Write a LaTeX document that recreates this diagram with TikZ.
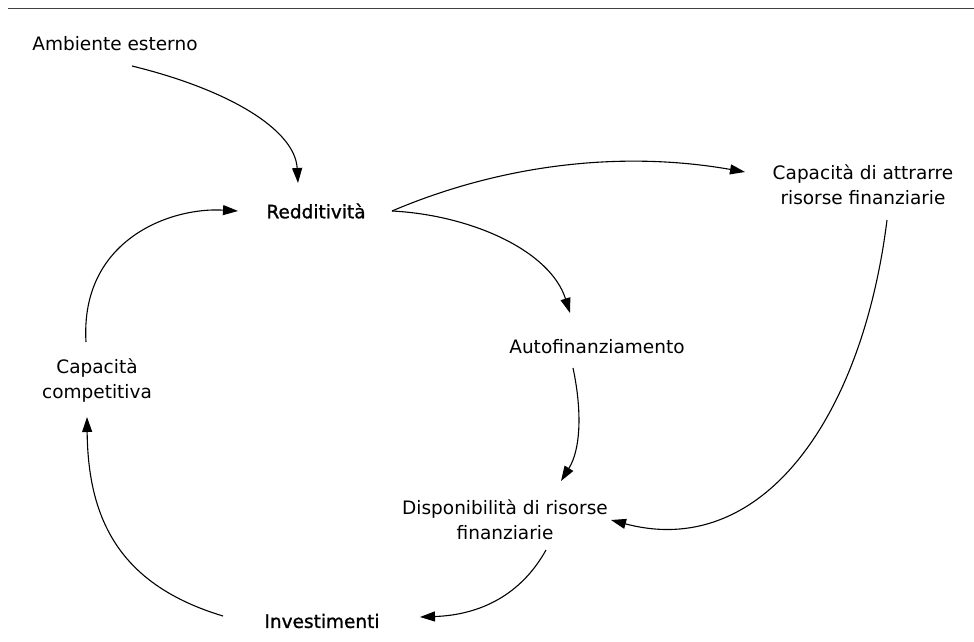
\documentclass[tikz,border=0pt]{standalone}
\usepackage{fontspec}
\setmainfont{DejaVu Sans}
\newfontfamily\emfont[FakeBold=1.2]{DejaVu Sans}
\usetikzlibrary{arrows.meta}
\tikzset{
  lbl/.style={inner sep=0pt, align=center, font=\fontsize{18.5}{25}\selectfont},
  elbl/.style={inner sep=0pt, align=center, font=\emfont\fontsize{18.5}{25}\selectfont},
  conn/.style={line width=1.1pt, -{Triangle[length=15pt,width=10pt]}},
  rulestyle/.style={line width=1.8pt, draw=black!75}
}
\begin{document}
\begin{tikzpicture}[x=1pt,y=-1pt]
\useasboundingbox (0,0) rectangle (974,642);
\draw[rulestyle] (8,8.5) -- (974,8.5);

\node[lbl]  (amb)  at (115,44)  {Ambiente esterno};
\node[elbl] (redd) at (316,211) {Redditività};
\node[lbl]  (cap)  at (863,185) {Capacità di attrarre\\risorse finanziarie};
\node[lbl]  (auto) at (597,347) {Autofinanziamento};
\node[lbl]  (comp) at (97,381)  {Capacità\\competitiva};
\node[elbl] (inv)  at (322,621) {Investimenti};
\node[lbl]  (disp) at (505,520) {Disponibilità di risorse\\finanziarie};

\draw[conn] ([shift={(17,22)}]amb.center) .. controls +(98,24) and +(-3,-53) .. ([shift={(-18,-28)}]redd.center);
\draw[conn] ([shift={(-11,-39)}]comp.center) .. controls +(-6,-102) and +(-68,-4) .. ([shift={(-78,0)}]redd.center);
\draw[conn] ([shift={(76,0)}]redd.center) .. controls +(108,-46) and +(-125,-22) .. ([shift={(-118,-13)}]cap.center);
\draw[conn] ([shift={(76,0)}]redd.center) .. controls +(78,4) and +(-20,-63) .. ([shift={(-27,-34)}]auto.center);
\draw[conn] ([shift={(-24,21)}]auto.center) .. controls +(9,42) and +(20,-32) .. ([shift={(56,-39)}]disp.center);
\draw[conn] ([shift={(24,35)}]cap.center) .. controls +(-25,200) and +(150,40) .. ([shift={(106,0)}]disp.center);
\draw[conn] ([shift={(41,30)}]disp.center) .. controls +(-25,45) and +(60,-2) .. ([shift={(98,-4)}]inv.center);
\draw[conn] ([shift={(-99,-5)}]inv.center) .. controls +(-103,-31) and +(1,103) .. ([shift={(-10,36)}]comp.center);
\end{tikzpicture}
\end{document}
